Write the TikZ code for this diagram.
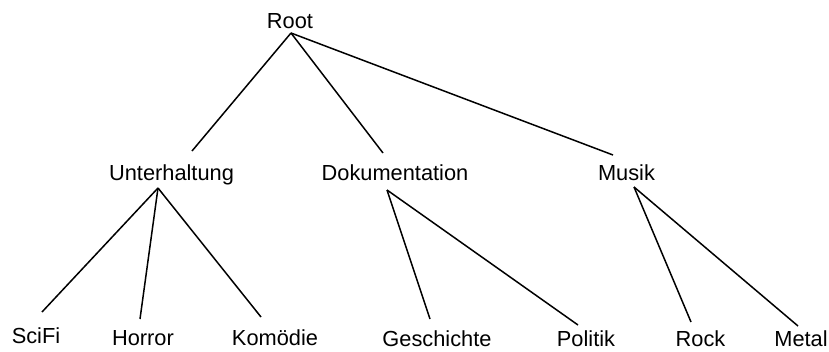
\documentclass[tikz,border=0pt]{standalone}
\usepackage{fontspec}
\setmainfont{Liberation Sans}
\usepackage{tikz}
\tikzstyle{lbl}=[inner sep=0, anchor=base, font=\fontsize{21.8}{26}\selectfont]
\tikzstyle{edge}=[line width=1.5pt]

\begin{document}
\begin{tikzpicture}[x=1pt, y=-1pt]
\useasboundingbox (0,0) rectangle (829,351);
\node at (290,28)[lbl](root){Root};
\node at (171.5,180)[lbl](unt){Unterhaltung};
\node at (395,180)[lbl](dok){Dokumentation};
\node at (626.5,180)[lbl](mus){Musik};
\node at (36,343)[lbl](scifi){SciFi};
\node at (143,345)[lbl](horror){Horror};
\node at (275,345)[lbl](komoedie){Komödie};
\node at (437,346)[lbl](gesch){Geschichte};
\node at (586,346)[lbl](politik){Politik};
\node at (700.5,346)[lbl](rock){Rock};
\node at (801,346.5)[lbl](metal){Metal};
\draw[edge] ([shift={(1,5)}]root.base)--([shift={(20.5,-29)}]unt.base);
\draw[edge] ([shift={(1,5)}]root.base)--([shift={(-12,-27)}]dok.base);
\draw[edge] ([shift={(1,5)}]root.base)--([shift={(-13.5,-25)}]mus.base);
\draw[edge] ([shift={(-13.5,8)}]unt.base)--([shift={(6,-31)}]scifi.base);
\draw[edge] ([shift={(-13.5,8)}]unt.base)--([shift={(-3,-26)}]horror.base);
\draw[edge] ([shift={(-13.5,8)}]unt.base)--([shift={(-14,-28)}]komoedie.base);
\draw[edge] ([shift={(-8,10)}]dok.base)--([shift={(-7,-27)}]gesch.base);
\draw[edge] ([shift={(-8,10)}]dok.base)--([shift={(-8,-21)}]politik.base);
\draw[edge] ([shift={(7.5,7)}]mus.base)--([shift={(-9.5,-24)}]rock.base);
\draw[edge] ([shift={(7.5,7)}]mus.base)--([shift={(-3,-20.5)}]metal.base);
\end{tikzpicture}
\end{document}
